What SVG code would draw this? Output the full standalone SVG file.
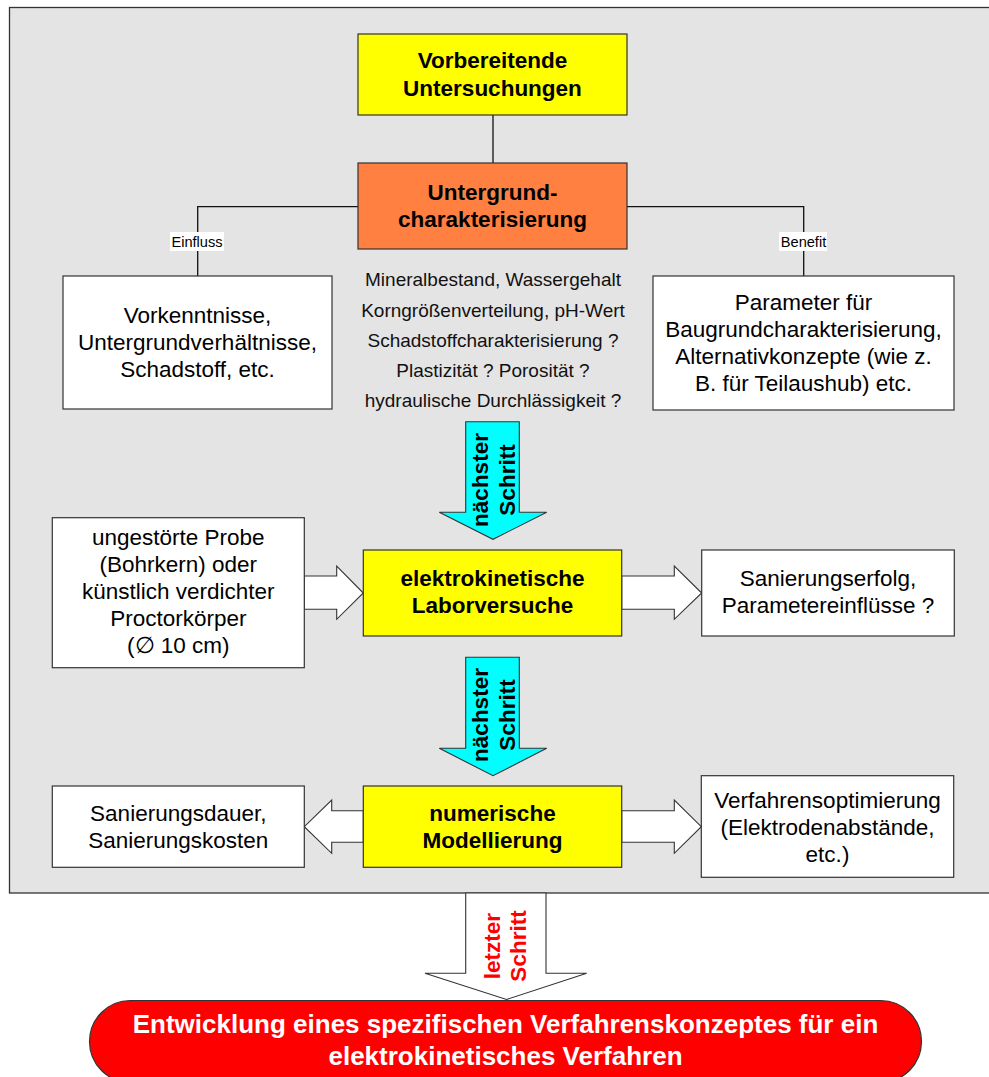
<svg xmlns="http://www.w3.org/2000/svg" width="989" height="1077" viewBox="0 0 989 1077">
  <style>
    .box { stroke: #333; stroke-width: 1.2; }
    .white { fill: #fff; }
    .yellow { fill: #ffff00; }
    .orange { fill: #ff8040; }
    .t { font-family: "Liberation Sans", Arial, sans-serif; text-anchor: middle; fill: #000; }
    .big { font-size: 22.5px; }
    .bold { font-weight: bold; }
    .mid { font-size: 19px; fill: #111; }
    .lbl { font-size: 14.6px; }
    .line { stroke: #111; stroke-width: 1.3; fill: none; }
    .hollow { fill: #fff; stroke: #333; stroke-width: 1.1; }
    .cyan { fill: #00ffff; stroke: #333; stroke-width: 1.1; }
  </style>

  <!-- grey frame -->
  <rect x="9.5" y="7.5" width="990" height="885.5" fill="#e4e4e4" stroke="#333" stroke-width="1.3"/>

  <!-- connectors -->
  <g id="connectors">
    <line class="line" x1="493" y1="115" x2="493" y2="163"/>
    <polyline class="line" points="358,206.7 197.7,206.7 197.7,276"/>
    <polyline class="line" points="627,206.7 803.7,206.7 803.7,276"/>
    <rect x="170" y="232" width="54" height="19" fill="#fff"/>
    <text class="t lbl" x="197" y="246.5">Einfluss</text>
    <rect x="779" y="232" width="48" height="19" fill="#fff"/>
    <text class="t lbl" x="803.5" y="246.5">Benefit</text>

    <!-- next-step arrows -->
    <polygon class="cyan" points="465.7,421.7 519.3,421.7 519.3,512.3 546.7,512.3 493,539.3 439.3,512.3 465.7,512.3"/>
    <text class="t big bold" transform="translate(493,480) rotate(-90)"><tspan x="0" y="-5">nächster</tspan><tspan x="0" y="22">Schritt</tspan></text>

    <polygon class="cyan" points="465.7,657.3 519.3,657.3 519.3,748.3 546.7,748.3 493,775.7 439.3,748.3 465.7,748.3"/>
    <text class="t big bold" transform="translate(493,715) rotate(-90)"><tspan x="0" y="-5">nächster</tspan><tspan x="0" y="22">Schritt</tspan></text>

    <!-- hollow arrows, laboratory row -->
    <polygon class="hollow" points="304.3,576 336.7,576 336.7,566 363.3,593 336.7,619.3 336.7,609.3 304.3,609.3"/>
    <polygon class="hollow" points="621.7,576 674.3,576 674.3,566 701.7,593 674.3,619.3 674.3,609.3 621.7,609.3"/>

    <!-- hollow arrows, modelling row -->
    <polygon class="hollow" points="363.3,810.7 331.7,810.7 331.7,800 304.3,826.7 331.7,853.3 331.7,842.3 363.3,842.3"/>
    <polygon class="hollow" points="621.7,810.7 674.3,810.7 674.3,800 701.3,826.7 674.3,853.3 674.3,842.3 621.7,842.3"/>

    <!-- last step -->
    <polygon class="hollow" points="465.7,893 546,893 546,973.3 586.7,973.3 506.5,999.5 425,973.3 465.7,973.3"/>
    <text class="t big bold" style="fill:#ff0000" transform="translate(506,946) rotate(-90)"><tspan x="0" y="-6.5">letzter</tspan><tspan x="0" y="20">Schritt</tspan></text>
  </g>

  <g id="vorbereitende">
    <rect class="box yellow" x="358" y="34" width="269" height="81"/>
    <text class="t big bold"><tspan x="492.5" y="68.3">Vorbereitende</tspan><tspan x="492.5" y="95.5">Untersuchungen</tspan></text>
  </g>

  <g id="untergrund">
    <rect class="box orange" x="358" y="163" width="269" height="86"/>
    <text class="t big bold"><tspan x="492.5" y="200">Untergrund-</tspan><tspan x="492.5" y="227">charakterisierung</tspan></text>
  </g>

  <g id="parameterliste">
    <text class="t mid"><tspan x="493" y="286">Mineralbestand, Wassergehalt</tspan><tspan x="493" y="316.5">Korngrößenverteilung, pH-Wert</tspan><tspan x="493" y="346.5">Schadstoffcharakterisierung ?</tspan><tspan x="493" y="376.5">Plastizität ? Porosität ?</tspan><tspan x="493" y="406.5">hydraulische Durchlässigkeit ?</tspan></text>
  </g>

  <g id="vorkenntnisse">
    <rect class="box white" x="63" y="276" width="269" height="133"/>
    <text class="t big"><tspan x="197.5" y="322.7">Vorkenntnisse,</tspan><tspan x="197.5" y="349.5">Untergrundverhältnisse,</tspan><tspan x="197.5" y="376.5">Schadstoff, etc.</tspan></text>
  </g>

  <g id="benefit-parameter">
    <rect class="box white" x="653" y="276" width="301" height="134"/>
    <text class="t big"><tspan x="803.5" y="309.5">Parameter für</tspan><tspan x="803.5" y="336.5">Baugrundcharakterisierung,</tspan><tspan x="803.5" y="363.5">Alternativkonzepte (wie z.</tspan><tspan x="803.5" y="390.5">B. für Teilaushub) etc.</tspan></text>
  </g>

  <g id="probe">
    <rect class="box white" x="52.3" y="517.7" width="252" height="150"/>
    <text class="t big"><tspan x="178.3" y="545">ungestörte Probe</tspan><tspan x="178.3" y="572">(Bohrkern) oder</tspan><tspan x="178.3" y="599">künstlich verdichter</tspan><tspan x="178.3" y="626">Proctorkörper</tspan><tspan x="178.3" y="653">(∅ 10 cm)</tspan></text>
  </g>

  <g id="laborversuche">
    <rect class="box yellow" x="363.3" y="550" width="258.4" height="86"/>
    <text class="t big bold"><tspan x="492.5" y="585.5">elektrokinetische</tspan><tspan x="492.5" y="612.5">Laborversuche</tspan></text>
  </g>

  <g id="sanierungserfolg">
    <rect class="box white" x="701.7" y="550" width="252.6" height="86"/>
    <text class="t big"><tspan x="828" y="586">Sanierungserfolg,</tspan><tspan x="828" y="613">Parametereinflüsse ?</tspan></text>
  </g>

  <g id="sanierungsdauer">
    <rect class="box white" x="52.3" y="786" width="252" height="81.3"/>
    <text class="t big"><tspan x="178.3" y="820.7">Sanierungsdauer,</tspan><tspan x="178.3" y="847.7">Sanierungskosten</tspan></text>
  </g>

  <g id="modellierung">
    <rect class="box yellow" x="363.3" y="786" width="258.4" height="81.3"/>
    <text class="t big bold"><tspan x="492.5" y="820.5">numerische</tspan><tspan x="492.5" y="847.5">Modellierung</tspan></text>
  </g>

  <g id="verfahrensoptimierung">
    <rect class="box white" x="701.3" y="775.7" width="252.4" height="101.6"/>
    <text class="t big"><tspan x="827.5" y="807.5">Verfahrensoptimierung</tspan><tspan x="827.5" y="834.5">(Elektrodenabstände,</tspan><tspan x="827.5" y="861.5">etc.)</tspan></text>
  </g>

  <g id="verfahrenskonzept">
    <rect x="89.5" y="1000.5" width="832" height="82" rx="41" ry="41" fill="#ff0000" stroke="#333" stroke-width="1.2"/>
    <text class="t bold" style="font-size:26px;fill:#fff"><tspan x="505.5" y="1033.3">Entwicklung eines spezifischen Verfahrenskonzeptes für ein</tspan><tspan x="505.5" y="1065">elektrokinetisches Verfahren</tspan></text>
  </g>
</svg>
